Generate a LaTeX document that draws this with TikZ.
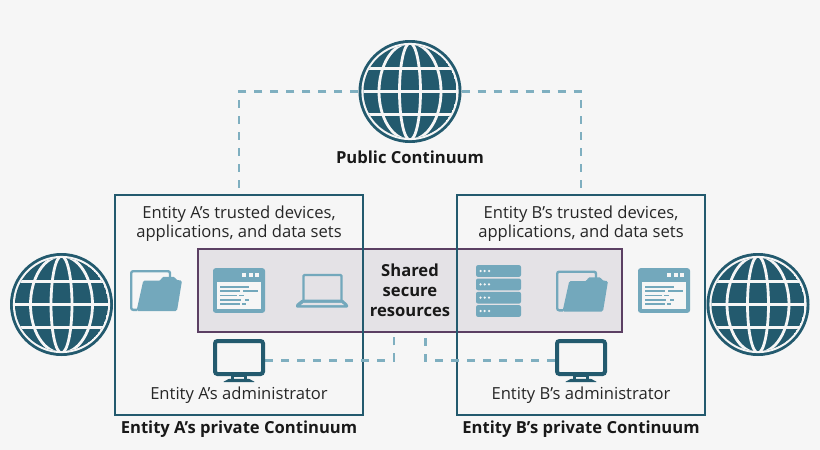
\documentclass[tikz,border=0pt]{standalone}
\usepackage{fontspec}
\setmainfont{Open Sans}
\definecolor{bgcol}{HTML}{F6F6F6}
\definecolor{darkteal}{HTML}{235A6E}
\definecolor{lightteal}{HTML}{73A8BC}
\definecolor{dashteal}{HTML}{7FAFC0}
\definecolor{sharedline}{HTML}{5B3F63}
\definecolor{sharedfill}{HTML}{E4E2E6}
\tikzset{
    privbox/.style={draw=darkteal,line width=2.4pt,minimum width=248pt,minimum height=220pt,inner sep=0pt},
    sharedbox/.style={draw=sharedline,line width=2pt,fill=sharedfill,minimum width=424pt,minimum height=83pt,inner sep=0pt},
    anchorbox/.style={inner sep=0pt,minimum width=#1pt,minimum height=42pt},
    link/.style={draw=dashteal,line width=2.2pt,dash pattern=on 8pt off 8pt},
    plain/.style={font=\fontsize{16.6}{19.4}\selectfont,text=black!85,align=center,inner sep=0pt},
    heavy/.style={font=\fontsize{16.6}{20}\selectfont\bfseries,text=black!90,align=center,inner sep=0pt},
    globe/.pic={
        \fill[darkteal] (0,0) circle (51.5);
        \fill[bgcol] (0,0) circle (48.6);
        \begin{scope}
            \clip (0,0) circle (46.5);
            \fill[darkteal] (0,0) circle (46.5);
            \foreach \ry in {-23.3,0,23.3}
                \draw[bgcol,line width=2.8pt] (-50,\ry) -- (50,\ry);
            \foreach \rx in {10.5,31}
                \draw[bgcol,line width=2.8pt] (0,0) ellipse ({\rx} and 48.5);
        \end{scope}
    },
    folder/.pic={
        \draw[lightteal,line width=2.4pt,rounded corners=2pt] (14,-13) -- (14,-19.3) -- (-24.8,-19.3) -- (-24.8,19.3) -- (-19,19.3);
        \fill[lightteal,rounded corners=1.5pt] (-12.7,-10) -- (5,-10) -- (6,-13.7) -- (19,-13.7) -- (20,-10.5) -- (26,-10) -- (21,20.5) -- (-19.5,20.5) -- cycle;
    },
    window/.pic={
        \fill[lightteal,rounded corners=2.5pt] (-26,-22.3) rectangle (26,22.3);
        \fill[bgcol] (-21.7,-8.7) rectangle (22,18.3);
        \foreach \bx in {3,9.7,16.3}
            \fill[bgcol] (\bx,-18) rectangle ++(4,4);
        \begin{scope}[lightteal,line width=1.7pt]
            \draw (-19,-3.5) -- (10,-3.5);
            \draw (-19,0.8) -- (1,0.8) (4,0.8) -- (19,0.8);
            \draw (-19,5) -- (-2,5) (0,5) -- (5,5);
            \draw (-19,9.2) -- (2,9.2) (6,9.2) -- (10,9.2);
            \draw (-19,13.4) -- (1,13.4) (3,13.4) -- (7,13.4);
        \end{scope}
    },
    laptop/.pic={
        \draw[lightteal,line width=2.2pt,rounded corners=1pt] (-18.5,9.5) -- (-18.5,-15.5) -- (19.5,-15.5) -- (19.5,9.5);
        \fill[lightteal,rounded corners=1pt] (-20,9) -- (20.5,9) -- (26,14) -- (26,17) -- (-26,17) -- (-26,14) -- cycle;
        \fill[sharedfill] (-18.5,12.3) -- (19.5,12.3) -- (22,14.7) -- (-21,14.7) -- cycle;
    },
    server/.pic={
        \foreach \sy in {-20,-6.6,6.7,20} {
            \fill[lightteal,rounded corners=2pt] (-22.5,\sy-5.9) rectangle (22.5,\sy+5.9);
            \foreach \dx in {-18,-13.8,-9.5}
                \fill[bgcol] (\dx,\sy) circle (1.25);
        }
    },
    monitor/.pic={
        \draw[darkteal,line width=4pt,rounded corners=2.5pt] (-24,-19.5) rectangle (24,13.5);
        \fill[darkteal] (-8,15) rectangle (8,19);
        \fill[bgcol] (-5,16.3) rectangle (5,18.3);
        \fill[darkteal,rounded corners=0.7pt] (-16,21.5) -- (-10,18.3) -- (10,18.3) -- (16,21.5) -- cycle;
    },
}
\begin{document}
\begin{tikzpicture}[x=1pt,y=-1pt]
    \fill[bgcol] (0,0) rectangle (820,450);
    \useasboundingbox (0,0) rectangle (820,450);

    % anchors for the globes and monitors
    \node[circle,inner sep=0pt,minimum size=103pt] (globeT) at (410,91.5) {};
    \node[circle,inner sep=0pt,minimum size=103pt] (globeA) at (61.5,304.5) {};
    \node[circle,inner sep=0pt,minimum size=103pt] (globeB) at (758,304.5) {};
    \node[anchorbox=52] (monA) at (239,360.5) {};
    \node[anchorbox=52] (monB) at (581,360.5) {};

    \node[sharedbox] (shared) at (410,290.5) {};
    \coordinate (sharedA) at (394,332);
    \coordinate (sharedB) at (425.5,332);
    \node[privbox] (boxA) at (239,305) {};
    \node[privbox] (boxB) at (581,305) {};

    % dashed links
    \draw[link] (globeT.west) -| (boxA.north);
    \draw[link] (globeT.east) -| (boxB.north);
    \draw[link] (monA.east) -| (sharedA);
    \draw[link] (monB.west) -| (sharedB);

    \pic at (globeT) {globe};
    \pic at (globeA) {globe};
    \pic at (globeB) {globe};

    \pic at (156,290.5) {folder};
    \pic at (239,290.5) {window};
    \pic at (322,290.5) {laptop};
    \pic at (498.5,291) {server};
    \pic at (582,291) {folder};
    \pic at (664,290.5) {window};
    \pic at (monA) {monitor};
    \pic at (monB) {monitor};

    \node[heavy] (pubtxt) at (410,157) {Public Continuum};
    \node[plain] (devA) at (239,223.5) {Entity A’s trusted devices,\\applications, and data sets};
    \node[plain] (devB) at (581,223.5) {Entity B’s trusted devices,\\applications, and data sets};
    \node[heavy] (sharedtxt) at (410,290) {Shared\\secure\\resources};
    \node[plain] (admA) at (239,395) {Entity A’s administrator};
    \node[plain] (admB) at (581,395) {Entity B’s administrator};
    \node[heavy] (privA) at (239,429) {Entity A’s private Continuum};
    \node[heavy] (privB) at (581,429) {Entity B’s private Continuum};
\end{tikzpicture}
\end{document}
